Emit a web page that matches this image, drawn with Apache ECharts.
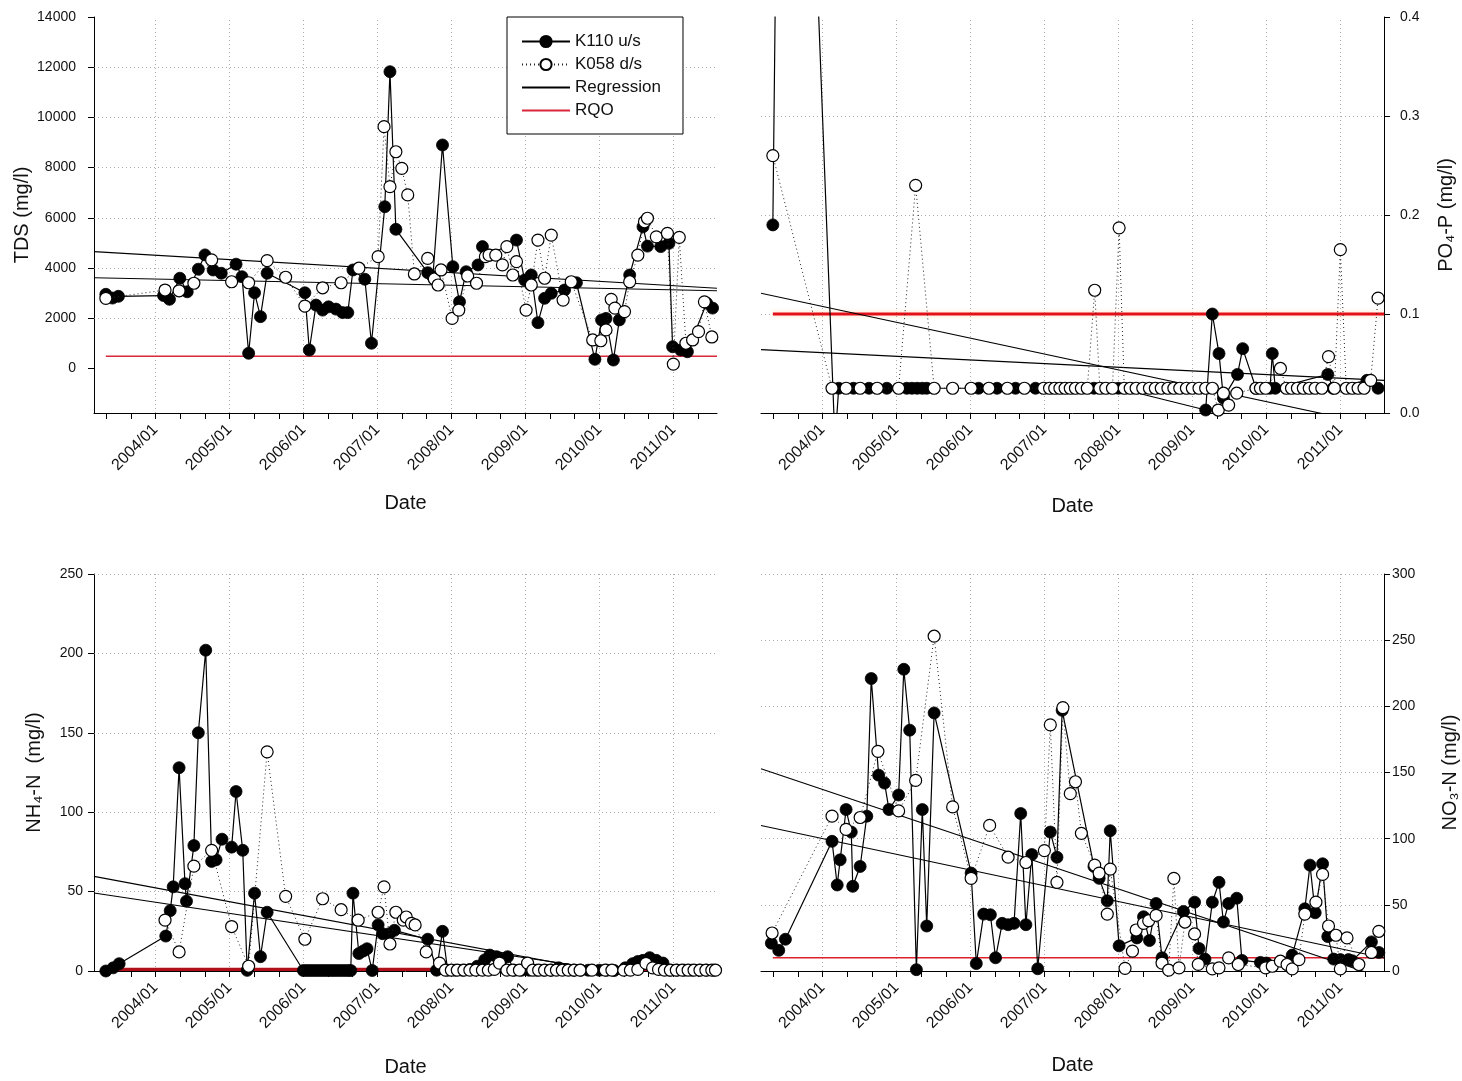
<!DOCTYPE html>
<html>
<head>
<meta charset="utf-8">
<script src="https://cdn.jsdelivr.net/npm/echarts@6/dist/echarts.min.js"></script>
<style>
  html, body { margin: 0; padding: 0; background: #fff; }
  #chart { width: 1462px; height: 1081px; }
</style>
</head>
<body>
<div id="chart"></div>
<script>
// ---------- shared axis values (decimal years) ----------
const X_MIN = 2003.17;
const X_MAX = 2011.59;
const RQO_START = 2003.33;
const yearTicks = [2004, 2005, 2006, 2007, 2008, 2009, 2010, 2011];
const monthTicks = [2003.333, 2003.667, 2004, 2004.333, 2004.667, 2005, 2005.333, 2005.667,
  2006, 2006.333, 2006.667, 2007, 2007.333, 2007.667, 2008, 2008.333, 2008.667,
  2009, 2009.333, 2009.667, 2010, 2010.333, 2010.667, 2011, 2011.333];

// ---------- TDS ----------
const tdsTicks = [0, 2000, 4000, 6000, 8000, 10000, 12000, 14000];
const tdsGridLevels = [2000, 4000, 6000, 8000, 10000, 12000];
const tdsK110 = [[2003.33,2950],[2003.42,2800],[2003.50,2870],[2004.11,2900],[2004.19,2750],[2004.33,3590],
  [2004.43,3050],[2004.58,3950],[2004.67,4520],[2004.78,3920],[2004.89,3790],[2005.09,4150],[2005.17,3650],
  [2005.26,600],[2005.34,3010],[2005.42,2060],[2005.51,3790],[2006.02,3010],[2006.08,730],[2006.17,2520],
  [2006.26,2320],[2006.34,2450],[2006.44,2360],[2006.53,2220],[2006.60,2220],[2006.67,3920],[2006.83,3550],
  [2006.92,1000],[2007.10,6440],[2007.17,11820],[2007.25,5540],[2007.68,3810],[2007.75,3650],[2007.88,8900],
  [2008.02,4050],[2008.11,2650],[2008.20,3850],[2008.36,4120],[2008.42,4850],[2008.52,4510],[2008.88,5110],
  [2008.99,3520],[2009.08,3720],[2009.17,1820],[2009.26,2790],[2009.35,2990],[2009.53,3120],[2009.69,3410],
  [2009.94,360],[2010.03,1930],[2010.09,1990],[2010.19,330],[2010.27,1930],[2010.41,3720],[2010.59,5640],
  [2010.65,4870],[2010.83,4850],[2010.94,4980],[2010.99,860],[2011.10,730],[2011.19,660],[2011.45,2600],
  [2011.53,2400]];
const tdsK058 = [[2003.33,2790],[2004.13,3120],[2004.32,3090],[2004.52,3390],[2004.76,4320],[2005.03,3450],
  [2005.26,3410],[2005.51,4290],[2005.76,3630],[2006.02,2480],[2006.26,3210],[2006.51,3410],[2006.75,3990],
  [2007.01,4450],[2007.09,9630],[2007.17,7240],[2007.25,8630],[2007.33,7970],[2007.41,6910],[2007.50,3760],
  [2007.68,4380],[2007.77,3560],[2007.82,3320],[2007.86,3920],[2008.01,1990],[2008.10,2320],[2008.22,3680],
  [2008.34,3390],[2008.46,4450],[2008.51,4510],[2008.60,4510],[2008.69,4120],[2008.75,4850],[2008.83,3720],
  [2008.88,4250],[2009.01,2320],[2009.08,3320],[2009.17,5110],[2009.26,3590],[2009.35,5310],[2009.51,2720],
  [2009.62,3450],[2009.91,1130],[2010.02,1100],[2010.09,1530],[2010.16,2750],[2010.21,2400],[2010.34,2260],
  [2010.41,3450],[2010.52,4510],[2010.61,5840],[2010.65,5980],[2010.77,5240],[2010.92,5380],[2011.00,170],
  [2011.08,5220],[2011.17,1000],[2011.26,1130],[2011.34,1460],[2011.42,2650],[2011.52,1250]];
const tdsFitA = [[X_MIN,4650],[X_MAX,3190]];
const tdsFitB = [[X_MIN,3610],[X_MAX,3090]];
const tdsRqo = 480;

// ---------- PO4-P ----------
const po4Ticks = [0, 0.1, 0.2, 0.3, 0.4];
const po4GridLevels = [0.1, 0.2, 0.3];
const po4K110 = [[2003.33,0.19],[2003.49,1.30],[2004.17,-0.03],[2004.22,0.025],[2004.42,0.025],[2004.63,0.025],
  [2004.87,0.025],[2005.14,0.025],[2005.21,0.025],[2005.28,0.025],[2005.35,0.025],[2005.41,0.025],[2006.11,0.025],
  [2006.36,0.025],[2006.61,0.025],[2006.88,0.025],[2007.67,0.025],[2008.00,0.025],[2009.18,0.003],[2009.27,0.100],
  [2009.36,0.060],[2009.42,0.015],[2009.61,0.039],[2009.68,0.065],[2009.86,0.025],[2010.05,0.025],[2010.08,0.060],
  [2010.12,0.025],[2010.83,0.039],[2010.90,0.025],[2011.36,0.033],[2011.51,0.025]];
const po4K058 = [[2003.33,0.26],[2004.13,0.025],[2004.32,0.025],[2004.51,0.025],[2004.74,0.025],[2005.03,0.025],
  [2005.26,0.23],[2005.51,0.025],[2005.76,0.025],[2006.01,0.025],[2006.25,0.025],[2006.50,0.025],[2006.73,0.025],
  [2006.99,0.025],[2007.07,0.025],[2007.14,0.025],[2007.21,0.025],[2007.28,0.025],[2007.35,0.025],[2007.42,0.025],
  [2007.50,0.025],[2007.58,0.025],[2007.68,0.124],[2007.75,0.025],[2007.83,0.025],[2007.92,0.025],[2008.01,0.187],
  [2008.08,0.025],[2008.16,0.025],[2008.24,0.025],[2008.33,0.025],[2008.42,0.025],[2008.50,0.025],[2008.58,0.025],
  [2008.67,0.025],[2008.75,0.025],[2008.83,0.025],[2008.92,0.025],[2009.00,0.025],[2009.09,0.025],[2009.18,0.025],
  [2009.27,0.025],[2009.35,0.003],[2009.42,0.020],[2009.49,0.008],[2009.60,0.020],[2009.86,0.025],[2009.92,0.025],
  [2009.99,0.025],[2010.19,0.045],[2010.27,0.025],[2010.34,0.025],[2010.42,0.025],[2010.50,0.025],[2010.58,0.025],
  [2010.66,0.025],[2010.75,0.025],[2010.84,0.057],[2010.92,0.025],[2011.00,0.165],[2011.08,0.025],[2011.16,0.025],
  [2011.24,0.025],[2011.32,0.025],[2011.41,0.033],[2011.51,0.116]];
const po4FitA = [[X_MIN,0.121],[X_MAX,-0.014]];
const po4FitB = [[X_MIN,0.064],[X_MAX,0.033]];
const po4Rqo = 0.1;

// ---------- NH4-N ----------
const nh4Ticks = [0, 50, 100, 150, 200, 250];
const nh4GridLevels = [50, 100, 150, 200, 250];
const nh4K110 = [[2003.33,0],[2003.43,2],[2003.51,4.6],[2004.14,22],[2004.20,38],[2004.24,53],[2004.32,128],
  [2004.40,55],[2004.42,44],[2004.52,79],[2004.58,150],[2004.68,202],[2004.76,69],[2004.82,70],[2004.90,83],
  [2005.03,78],[2005.09,113],[2005.18,76],[2005.24,0.4],[2005.34,49],[2005.42,9],[2005.51,37],[2006.00,0.3],
  [2006.05,0.3],[2006.10,0.3],[2006.15,0.3],[2006.20,0.3],[2006.25,0.3],[2006.30,0.3],[2006.35,0.3],[2006.40,0.3],
  [2006.45,0.3],[2006.50,0.3],[2006.55,0.3],[2006.60,0.3],[2006.64,0.3],[2006.67,49],[2006.75,11],[2006.81,12.6],
  [2006.86,14],[2006.93,0.3],[2007.01,29],[2007.07,23.5],[2007.16,23.5],[2007.23,25.6],[2007.68,20],[2007.80,0.5],
  [2007.88,25],[2007.95,0.5],[2008.05,0.5],[2008.15,0.5],[2008.25,1],[2008.35,3],[2008.45,7],[2008.52,10],
  [2008.61,9],[2008.68,7],[2008.76,9],[2008.85,0.5],[2008.95,0.5],[2009.05,0.5],[2009.15,0.5],[2009.25,0.5],
  [2009.35,0.5],[2009.45,2],[2009.55,1],[2009.65,0.5],[2009.75,0.5],[2009.85,0.5],[2010.00,0.5],[2010.10,0.5],
  [2010.20,0.3],[2010.35,2],[2010.45,4.6],[2010.52,6],[2010.59,6.7],[2010.68,8.4],[2010.77,6.7],[2010.86,5],
  [2010.95,0.5],[2011.05,0.5],[2011.15,0.5],[2011.25,0.5],[2011.35,0.5],[2011.45,0.5],[2011.55,0.5]];
const nh4K058 = [[2004.13,32],[2004.32,12],[2004.52,66],[2004.76,76],[2005.03,28],[2005.26,3],[2005.51,138],
  [2005.76,47],[2006.02,20],[2006.26,45.5],[2006.51,38.6],[2006.74,32],[2007.01,37],[2007.09,53],[2007.17,17],
  [2007.25,37],[2007.35,32],[2007.39,34],[2007.46,30],[2007.51,29],[2007.66,12],[2007.84,5],[2007.92,0.5],
  [2008.00,0.5],[2008.08,0.5],[2008.17,0.5],[2008.25,0.5],[2008.33,0.5],[2008.42,0.5],[2008.50,0.5],[2008.58,1],
  [2008.65,5],[2008.75,0.5],[2008.83,0.5],[2008.92,0.5],[2009.03,5],[2009.10,0.5],[2009.18,0.5],[2009.26,0.5],
  [2009.34,0.5],[2009.42,0.5],[2009.50,0.5],[2009.58,0.5],[2009.66,0.5],[2009.74,0.5],[2009.90,0.5],[2010.08,0.5],
  [2010.17,0.5],[2010.33,0.5],[2010.42,0.5],[2010.52,1],[2010.63,4.8],[2010.72,2],[2010.80,1],[2010.88,0.5],
  [2010.96,0.5],[2011.04,0.5],[2011.12,0.5],[2011.20,0.5],[2011.28,0.5],[2011.36,0.5],[2011.44,0.5],[2011.52,0.5],
  [2011.57,0.5]];
const nh4FitA = [[X_MIN,59.6],[X_MAX,-13.7]];
const nh4FitB = [[X_MIN,49.1],[X_MAX,-9.8]];
const nh4Rqo = 1;

// ---------- NO3-N ----------
const no3Ticks = [0, 50, 100, 150, 200, 250, 300];
const no3GridLevels = [50, 100, 150, 200, 250, 300];
const no3K110 = [[2003.31,21],[2003.41,15.6],[2003.50,24],[2004.13,98],[2004.20,65],[2004.24,84],[2004.32,122],
  [2004.39,105],[2004.41,64],[2004.51,79],[2004.60,117],[2004.66,221],[2004.76,148],[2004.84,142],[2004.90,122],
  [2005.03,133],[2005.10,228],[2005.18,182],[2005.27,1],[2005.35,122],[2005.41,34],[2005.51,195],[2006.01,74],
  [2006.08,5.6],[2006.18,43],[2006.27,42.5],[2006.34,10],[2006.43,36],[2006.51,35],[2006.59,36],[2006.68,119],
  [2006.75,35],[2006.83,88],[2006.91,1.7],[2007.08,105],[2007.17,86],[2007.24,197],[2007.67,79],[2007.74,70],
  [2007.85,53],[2007.89,106],[2008.01,19],[2008.25,25],[2008.34,41],[2008.42,23],[2008.51,51],[2008.59,10],
  [2008.88,45],[2009.03,52],[2009.09,17],[2009.17,9],[2009.27,52],[2009.36,67],[2009.42,37],[2009.49,51],
  [2009.60,55],[2009.67,8],[2009.92,6.5],[2010.00,6],[2010.35,12],[2010.52,47],[2010.59,80],[2010.66,44],
  [2010.76,81],[2010.83,26],[2010.91,9],[2011.00,8.6],[2011.11,8.6],[2011.16,7.7],[2011.42,22],[2011.52,14]];
const no3K058 = [[2003.32,28.7],[2004.13,117],[2004.32,107],[2004.51,116],[2004.75,166],[2005.03,121],[2005.26,144],
  [2005.51,253],[2005.76,124],[2006.01,70],[2006.26,110],[2006.51,86],[2006.75,82],[2007.00,91],[2007.08,186],
  [2007.17,67],[2007.25,199],[2007.35,134],[2007.42,143],[2007.50,104],[2007.68,80],[2007.74,74],[2007.85,43],
  [2007.89,77],[2008.09,2],[2008.19,15],[2008.24,31],[2008.34,36],[2008.41,38],[2008.51,42],[2008.59,6],
  [2008.68,0.6],[2008.75,70],[2008.82,2.4],[2008.90,37],[2009.03,28],[2009.08,5],[2009.27,1.6],[2009.36,2.4],
  [2009.49,9.9],[2009.62,4.9],[2009.99,2.4],[2010.08,3.6],[2010.19,7.4],[2010.28,4.9],[2010.35,1.6],[2010.44,8.6],
  [2010.52,43],[2010.67,52],[2010.76,73],[2010.84,34],[2010.94,27],[2011.00,1.6],[2011.09,25],[2011.25,4.9],
  [2011.42,14],[2011.52,30]];
const no3FitA = [[X_MIN,152.8],[X_MAX,-5.5]];
const no3FitB = [[X_MIN,110],[X_MAX,9.8]];
const no3Rqo = 10;

// ---------- drawing ----------
const FONT = '"Liberation Sans", Arial, Helvetica, sans-serif';
const INK = '#111';

const frames = [
  { left: 94,  top: 17,  width: 623, height: 396, side: 'left',  nameGap: 62, dateGap: 80, labelGap: 18 },
  { left: 761, top: 17,  width: 623, height: 396, side: 'right', nameGap: 52, dateGap: 83, labelGap: 16 },
  { left: 94,  top: 574, width: 623, height: 397, side: 'left',  nameGap: 50, dateGap: 86, labelGap: 11 },
  { left: 761, top: 574, width: 623, height: 397, side: 'right', nameGap: 56, dateGap: 84, labelGap: 8 }
];

const panels = [
  { title: 'TDS (mg/l)', min: -1780, max: 14000, ticks: tdsTicks, levels: tdsGridLevels, digits: 0,
    up: tdsK110, down: tdsK058, fits: [tdsFitA, tdsFitB], rqo: tdsRqo, rqoColor: '#d9263a', rqoWidth: 1.4 },
  { title: 'PO\u2084-P (mg/l)', min: 0, max: 0.4, ticks: po4Ticks, levels: po4GridLevels, digits: 1,
    up: po4K110, down: po4K058, fits: [po4FitA, po4FitB], rqo: po4Rqo, rqoColor: '#e3101a', rqoWidth: 3,
    rqoGlow: 'rgba(255,170,90,0.45)' },
  { title: 'NH\u2084-N  (mg/l)', min: 0, max: 250, ticks: nh4Ticks, levels: nh4GridLevels, digits: 0,
    up: nh4K110, down: nh4K058, fits: [nh4FitA, nh4FitB], rqo: nh4Rqo, rqoColor: '#b0101a', rqoWidth: 3.2 },
  { title: 'NO\u2083-N (mg/l)', min: 0, max: 300, ticks: no3Ticks, levels: no3GridLevels, digits: 0,
    up: no3K110, down: no3K058, fits: [no3FitA, no3FitB], rqo: no3Rqo, rqoColor: '#e0202a', rqoWidth: 1.4 }
];

const grids = [], xAxes = [], yAxes = [], series = [];

panels.forEach((p, i) => {
  const f = frames[i];
  grids.push({ left: f.left, top: f.top, width: f.width, height: f.height, containLabel: false });

  xAxes.push({
    type: 'value', gridIndex: i, min: X_MIN, max: X_MAX,
    axisLine: { show: true, onZero: false, lineStyle: { color: '#000', width: 1 } },
    axisTick: { show: true, length: 6, customValues: monthTicks, lineStyle: { color: '#000', width: 1 } },
    axisLabel: {
      customValues: yearTicks, rotate: 45, margin: 14, fontSize: 16, color: INK, fontFamily: FONT,
      formatter: v => Math.round(v) + '/01'
    },
    splitLine: { show: false },
    name: 'Date', nameLocation: 'middle', nameGap: f.dateGap,
    nameTextStyle: { fontSize: 20, color: INK, fontFamily: FONT }
  });

  yAxes.push({
    type: 'value', gridIndex: i, position: f.side, min: p.min, max: p.max,
    axisLine: { show: true, onZero: false, lineStyle: { color: '#000', width: 1 } },
    axisTick: { show: true, length: 6, customValues: p.ticks, lineStyle: { color: '#000', width: 1 } },
    axisLabel: {
      customValues: p.ticks, margin: f.labelGap, fontSize: 14, color: INK, fontFamily: FONT,
      formatter: v => v.toFixed(p.digits)
    },
    splitLine: { show: false },
    name: p.title, nameLocation: 'middle', nameGap: f.nameGap,
    nameTextStyle: { fontSize: 20, color: INK, fontFamily: FONT }
  });

  const axes = { xAxisIndex: i, yAxisIndex: i, silent: true, animation: false };

  // dotted reference grid + RQO line
  const rqoStyle = { color: p.rqoColor, width: p.rqoWidth };
  if (p.rqoGlow) { rqoStyle.shadowColor = p.rqoGlow; rqoStyle.shadowBlur = 5; }
  series.push(Object.assign({}, axes, {
    name: 'RQO', type: 'line', symbol: 'none', z: 2,
    data: [[RQO_START, p.rqo], [X_MAX, p.rqo]],
    lineStyle: rqoStyle,
    markLine: {
      silent: true, symbol: ['none', 'none'], label: { show: false }, animation: false, z: 1,
      lineStyle: { color: '#888', width: 1, type: [1, 3], opacity: 0.7 },
      emphasis: { disabled: true },
      data: yearTicks.map(v => ({ xAxis: v })).concat(p.levels.map(v => ({ yAxis: v })))
    }
  }));

  // regression lines
  p.fits.forEach(fit => {
    series.push(Object.assign({}, axes, {
      name: 'Regression', type: 'line', symbol: 'none', z: 3,
      data: fit, lineStyle: { color: '#000', width: 1.1 }
    }));
  });

  // upstream station
  series.push(Object.assign({}, axes, {
    name: 'K110 u/s', type: 'line', symbol: 'circle', symbolSize: 12, z: 4,
    data: p.up,
    lineStyle: { color: '#000', width: 1.2 },
    itemStyle: { color: '#000', borderColor: '#000', borderWidth: 0.8 }
  }));

  // downstream station
  series.push(Object.assign({}, axes, {
    name: 'K058 d/s', type: 'line', symbol: 'circle', symbolSize: 12, z: 5,
    data: p.down,
    lineStyle: { color: '#222', width: 1, type: [1, 3] },
    itemStyle: { color: '#fff', borderColor: '#000', borderWidth: 1.2 }
  }));
});

const chart = echarts.init(document.getElementById('chart'), null, { renderer: 'canvas' });
chart.setOption({
  backgroundColor: '#fff',
  animation: false,
  textStyle: { fontFamily: FONT },
  grid: grids,
  xAxis: xAxes,
  yAxis: yAxes,
  legend: {
    left: 507, top: 17, orient: 'vertical', selectedMode: false,
    itemWidth: 48, itemHeight: 14, itemGap: 6,
    padding: [16, 22, 15, 14],
    borderColor: '#000', borderWidth: 1, backgroundColor: '#fff',
    textStyle: { fontSize: 17, color: INK, fontFamily: FONT },
    data: [
      { name: 'K110 u/s' },
      { name: 'K058 d/s' },
      { name: 'Regression', itemStyle: { opacity: 0 } },
      { name: 'RQO', itemStyle: { opacity: 0 } }
    ]
  },
  series: series
});
</script>
</body>
</html>
